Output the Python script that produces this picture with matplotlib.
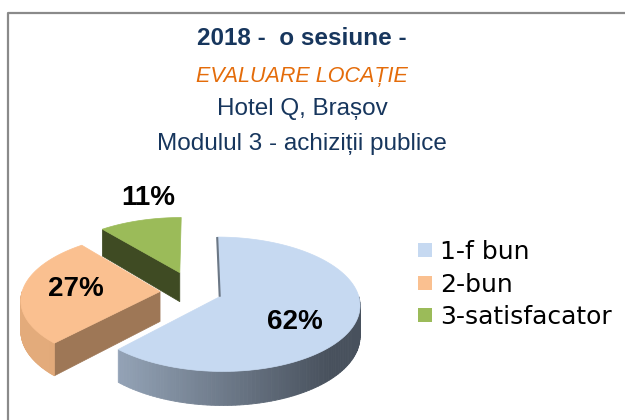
import numpy as np
import matplotlib
matplotlib.use("Agg")
import matplotlib.pyplot as plt
from matplotlib.patches import Polygon, Rectangle

# ---- data ----
categories = ['1-f bun', '2-bun', '3-satisfacator']
values = [62, 27, 11]
pct_labels = ['62%', '27%', '11%']
title_lines = ['2018 -  o sesiune -', 'EVALUARE LOCAȚIE', 'Hotel Q, Brașov',
               'Modulul 3 - achiziții publice']

# ---- styles / layout ----
top_colors = ['#C6D9F1', '#FAC090', '#9BBB59']
cut_colors = ['#5F6A78', '#9E7756', '#3F4B23']
explode = [0.195, 0.25, 0.325]
label_pos = [(295, 322), (76, 289), (148, 198)]

W, H = 625, 420
fig = plt.figure(figsize=(W / 100, H / 100), dpi=100)
ax = fig.add_axes([0, 0, 1, 1])
ax.set_xlim(0, W)
ax.set_ylim(H, 0)
ax.axis('off')

# projection parameters (pixel layout)
cx, cy = 194.5, 292.0
Rx, A, k, TH = 138.0, 65.3, 0.111, 30.0


def proj(X, Y, Z=0.0):
    X = np.asarray(X, float)
    Y = np.asarray(Y, float)
    d = 1 + k * Y
    return cx + Rx * X / d, cy - A * Y / d - TH * Z / d


def lerp_col(c1, c2, t):
    c1 = np.array(matplotlib.colors.to_rgb(c1))
    c2 = np.array(matplotlib.colors.to_rgb(c2))
    return tuple(c1 + (c2 - c1) * t)


# slice angles: start at 90 deg, clockwise
total = sum(values)
angles = []
cur = 90.0
for v in values:
    span = 360.0 * v / total
    angles.append((cur - span, cur))  # (t1, t2) counter-clockwise order
    cur -= span

slices = []
for i, (t1, t2) in enumerate(angles):
    m = np.radians((t1 + t2) / 2)
    ox, oy = explode[i] * np.cos(m), explode[i] * np.sin(m)
    slices.append((i, t1, t2, ox, oy))

# painter's order: far first
slices.sort(key=lambda s: -s[4])

side_grad = {0: ('#9AAABE', '#48515D'), 1: ('#E3AB7B', '#CF9767'), 2: ('#6F8A3A', '#3F4B23')}

for i, t1, t2, ox, oy in slices:
    ts = np.radians(np.linspace(t1, t2, 200))
    # cut faces
    for t, sgn in ((t1, -1), (t2, 1)):
        n = np.radians(t + sgn * 90)
        if np.sin(n) < -0.05:
            tr = np.radians(t)
            ex, ey = ox + np.cos(tr), oy + np.sin(tr)
            px = [proj(ox, oy, 0), proj(ex, ey, 0), proj(ex, ey, -1), proj(ox, oy, -1)]
            ax.add_patch(Polygon([(float(a), float(b)) for a, b in px], closed=True,
                                 facecolor=cut_colors[i], edgecolor=cut_colors[i], lw=0.5))
    # outer side (front half only)
    segs = []
    for base in (-360, 0, 360):
        a0, a1 = max(t1, 180 + base), min(t2, 360 + base)
        if a1 > a0:
            segs.append((a0, a1))
    for a0, a1 in segs:
        tt = np.radians(np.linspace(a0, a1, 90))
        X = ox + np.cos(tt)
        Y = oy + np.sin(tt)
        xt, yt = proj(X, Y, 0)
        xb, yb = proj(X, Y, -1)
        c_lo, c_hi = side_grad[i]
        for j in range(len(tt) - 1):
            xm = (xt[j] + xt[j + 1]) / 2
            f = np.clip((xm - (cx - Rx * 1.1)) / (Rx * 2.2), 0, 1)
            if i == 0:
                f = np.clip((xm - 100) / 230, 0, 1)
            col = lerp_col(c_lo, c_hi, f)
            poly = [(xt[j], yt[j]), (xt[j + 1], yt[j + 1]), (xb[j + 1], yb[j + 1]), (xb[j], yb[j])]
            ax.add_patch(Polygon(poly, closed=True, facecolor=col, edgecolor=col, lw=0.6))
    # top face
    X = np.concatenate([[ox], ox + np.cos(ts)])
    Y = np.concatenate([[oy], oy + np.sin(ts)])
    xs, ys = proj(X, Y, 0)
    ax.add_patch(Polygon(np.column_stack([xs, ys]), closed=True,
                         facecolor=top_colors[i], edgecolor=top_colors[i], lw=0.5))
    if i == 0:
        tr = np.radians(t2)
        lx, ly = proj([ox, ox + np.cos(tr)], [oy, oy + np.sin(tr)], 0)
        ax.plot(lx, ly, color='#6B7785', lw=1.5, solid_capstyle='butt')

# data labels
for i, lab in enumerate(pct_labels):
    ax.text(label_pos[i][0], label_pos[i][1], lab, ha='center', va='center',
            fontsize=20, fontweight='bold', family='Liberation Sans', color='black')

# border
ax.plot([8, 8, W], [H, 13, 13], color='#8A8A8A', lw=1.6, solid_capstyle='butt')

# title
navy = '#17365D'
tx = 302
ax.text(tx, 45, title_lines[0], ha='center', va='baseline', fontsize=17.5,
        fontweight='bold', color=navy, family='Liberation Sans')
ax.text(tx, 82, title_lines[1], ha='center', va='baseline', fontsize=15.5,
        style='italic', color='#E46C0A', family='Liberation Sans')
ax.text(tx, 115, title_lines[2], ha='center', va='baseline', fontsize=17.5,
        color=navy, family='Liberation Sans')
ax.text(tx, 150, title_lines[3], ha='center', va='baseline', fontsize=17.5,
        color=navy, family='Liberation Sans')

# legend
leg_y = [250, 282.5, 315]
for i, name in enumerate(categories):
    ax.add_patch(Rectangle((418, leg_y[i] - 7), 14, 14, facecolor=top_colors[i], edgecolor='none'))
    ax.text(440, leg_y[i] + 9, name, ha='left', va='baseline', fontsize=18,
            family='DejaVu Sans', color='black')

fig.savefig('out.png', dpi=100)
